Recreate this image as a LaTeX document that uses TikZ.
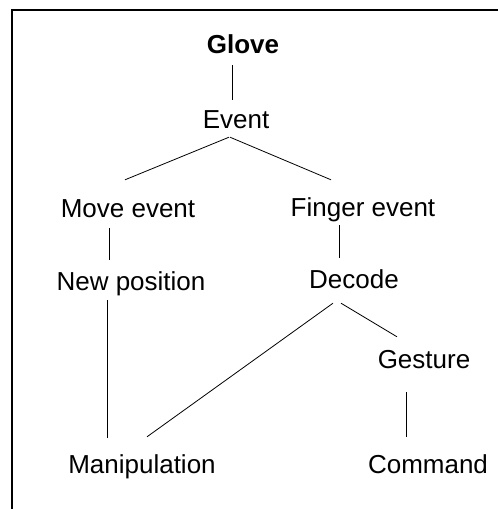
\documentclass[tikz,border=0pt]{standalone}
\usepackage{fontspec}
\setmainfont{Liberation Sans}
\usetikzlibrary{calc}

\tikzset{
  label text/.style={font=\fontsize{26}{30}\selectfont, anchor=base, inner sep=0pt,
                     text height=19pt, text depth=6pt},
  title text/.style={label text, font=\fontsize{26}{30}\selectfont\bfseries},
  link/.style={draw=black, line width=0.8pt},
  frame/.style={draw=black, line width=1.1pt}
}

\begin{document}
\begin{tikzpicture}[x=1pt, y=-1pt]
  \useasboundingbox (0,0) rectangle (498,509);

  % frame edges (left and top)
  \draw[frame] (12,509) -- (12,10) -- (498,10);

  % tree nodes
  \node[title text] (glove)   at (243,53)  {Glove};
  \node[label text] (event)   at (236,128) {Event};
  \node[label text] (move)    at (128,217) {Move event};
  \node[label text] (finger)  at (363,216) {Finger event};
  \node[label text] (newpos)  at (131,290) {New position};
  \node[label text] (decode)  at (354,288) {Decode};
  \node[label text] (gesture) at (424,368) {Gesture};
  \node[label text] (manip)   at (142,473) {Manipulation};
  \node[label text] (command) at (428,473) {Command};

  % connectors
  \draw[link] ($(glove.south)+(-11,6)$)   -- ($(event.north)+(-4,-9)$);
  \draw[link] ($(event.south)+(-7,3)$)    -- ($(move.north)+(-3,-18)$);
  \draw[link] ($(event.south)+(-6,3)$)    -- ($(finger.north)+(-32,-17)$);
  \draw[link] ($(move.south)+(-19,5)$)    -- ($(newpos.north)+(-22,-11)$);
  \draw[link] ($(finger.south)+(-24,3)$)  -- ($(decode.north)+(-15,-11)$);
  \draw[link] ($(newpos.south)+(-24,4)$)  -- ($(manip.north)+(-35,-16)$);
  \draw[link] ($(decode.south)+(-21,9)$)  -- ($(manip.north)+(5,-17)$);
  \draw[link] ($(decode.south)+(-13,9)$)  -- ($(gesture.north)+(-27,-12)$);
  \draw[link] ($(gesture.south)+(-18,18)$) -- ($(command.north)+(-22,-17)$);
\end{tikzpicture}
\end{document}
